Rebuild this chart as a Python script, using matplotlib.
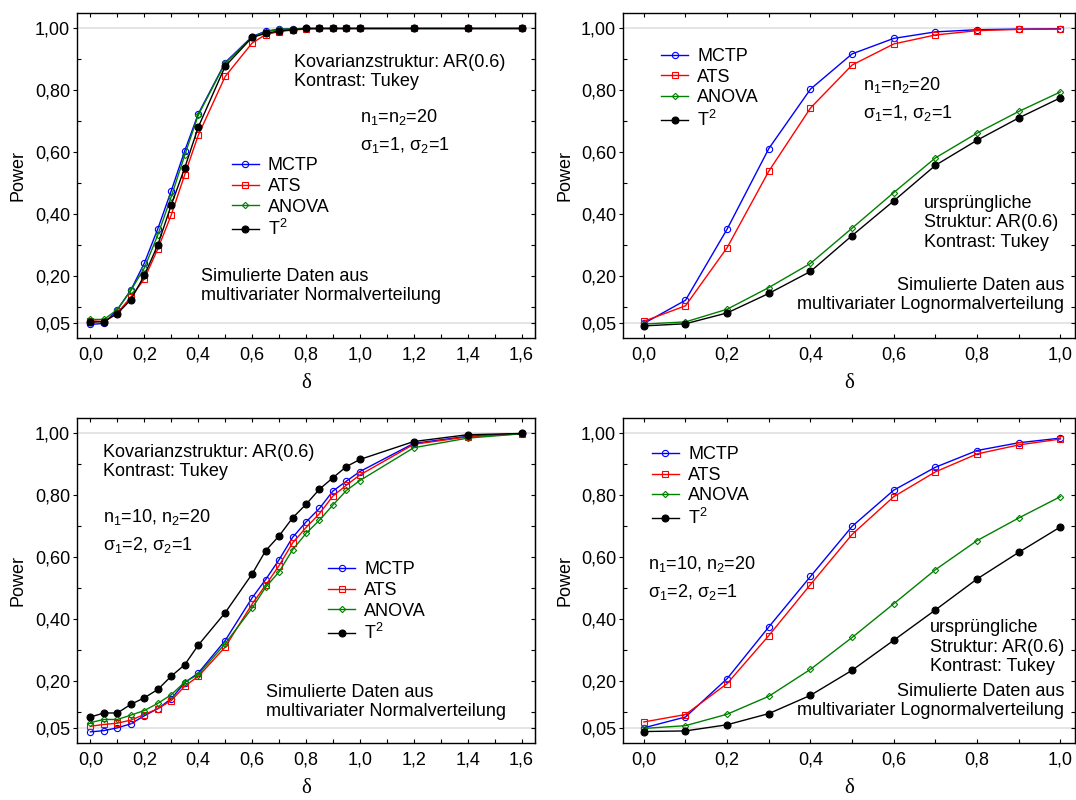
import matplotlib
matplotlib.use("Agg")
import matplotlib.pyplot as plt
from matplotlib.ticker import FixedLocator, FuncFormatter

plt.rcParams["font.family"] = ["Liberation Sans", "DejaVu Sans"]
plt.rcParams["font.size"] = 13

# delta grids
delta_fine = [0.0, 0.05, 0.1, 0.15, 0.2, 0.25, 0.3, 0.35, 0.4, 0.5, 0.6, 0.65,
              0.7, 0.75, 0.8, 0.85, 0.9, 0.95, 1.0, 1.2, 1.4, 1.6]
delta_coarse = [0.0, 0.1, 0.2, 0.3, 0.4, 0.5, 0.6, 0.7, 0.8, 0.9, 1.0]

# panel 1: normal, n1=n2=20, sigma 1/1
p1_mctp = [0.044, 0.047, 0.092, 0.155, 0.242, 0.353, 0.476, 0.605, 0.724, 0.890, 0.974, 0.991,
           0.998, 0.999, 1.0, 1.0, 1.0, 1.0, 1.0, 1.0, 1.0, 1.0]
p1_ats = [0.056, 0.053, 0.081, 0.132, 0.191, 0.288, 0.398, 0.528, 0.655, 0.845, 0.953, 0.980,
          0.990, 0.995, 0.998, 1.0, 1.0, 1.0, 1.0, 1.0, 1.0, 1.0]
p1_anova = [0.060, 0.060, 0.092, 0.154, 0.226, 0.333, 0.457, 0.591, 0.720, 0.888, 0.972, 0.989,
            0.997, 0.999, 1.0, 1.0, 1.0, 1.0, 1.0, 1.0, 1.0, 1.0]
p1_t2 = [0.051, 0.053, 0.079, 0.124, 0.202, 0.301, 0.430, 0.550, 0.681, 0.878, 0.971, 0.984,
         0.992, 0.996, 1.0, 1.0, 1.0, 1.0, 1.0, 1.0, 1.0, 1.0]

# panel 2: lognormal, n1=n2=20, sigma 1/1
p2_mctp = [0.047, 0.122, 0.352, 0.612, 0.804, 0.918, 0.968, 0.989, 0.996, 0.998, 0.999]
p2_ats = [0.054, 0.104, 0.292, 0.539, 0.743, 0.882, 0.950, 0.979, 0.993, 0.997, 0.998]
p2_anova = [0.045, 0.052, 0.093, 0.163, 0.241, 0.355, 0.470, 0.582, 0.662, 0.732, 0.795]
p2_t2 = [0.039, 0.046, 0.081, 0.144, 0.215, 0.331, 0.443, 0.558, 0.639, 0.711, 0.776]

# panel 3: normal, n1=10 n2=20, sigma 2/1
p3_mctp = [0.036, 0.040, 0.049, 0.062, 0.088, 0.111, 0.143, 0.195, 0.226, 0.331, 0.469, 0.528,
           0.592, 0.664, 0.714, 0.758, 0.814, 0.846, 0.877, 0.968, 0.991, 1.0]
p3_ats = [0.054, 0.060, 0.064, 0.074, 0.092, 0.111, 0.137, 0.184, 0.215, 0.310, 0.449, 0.510,
          0.573, 0.646, 0.696, 0.741, 0.798, 0.833, 0.866, 0.965, 0.989, 0.999]
p3_anova = [0.066, 0.076, 0.076, 0.090, 0.105, 0.128, 0.156, 0.197, 0.221, 0.321, 0.436, 0.503,
            0.553, 0.624, 0.677, 0.720, 0.769, 0.816, 0.848, 0.954, 0.985, 0.999]
p3_t2 = [0.084, 0.097, 0.097, 0.125, 0.146, 0.173, 0.216, 0.253, 0.316, 0.421, 0.546, 0.621,
         0.669, 0.727, 0.771, 0.820, 0.857, 0.893, 0.916, 0.974, 0.996, 1.0]

# panel 4: lognormal, n1=10 n2=20, sigma 2/1
p4_mctp = [0.049, 0.084, 0.208, 0.375, 0.538, 0.700, 0.817, 0.891, 0.945, 0.970, 0.985]
p4_ats = [0.068, 0.092, 0.192, 0.347, 0.512, 0.674, 0.796, 0.876, 0.934, 0.963, 0.982]
p4_anova = [0.047, 0.056, 0.093, 0.151, 0.238, 0.341, 0.450, 0.560, 0.654, 0.727, 0.796]
p4_t2 = [0.037, 0.039, 0.059, 0.095, 0.154, 0.235, 0.332, 0.430, 0.530, 0.616, 0.698]

y_major = [0.05, 0.2, 0.4, 0.6, 0.8, 1.0]
y_minor = [0.1, 0.3, 0.5, 0.7, 0.9]

txt_cov = "Kovarianzstruktur: AR(0.6)\nKontrast: Tukey"
txt_orig = "ursprüngliche\nStruktur: AR(0.6)\nKontrast: Tukey"
txt_norm = "Simulierte Daten aus\nmultivariater Normalverteilung"
txt_logn = "Simulierte Daten aus\nmultivariater Lognormalverteilung"
txt_n20 = "n$\\mathregular{_1}$=n$\\mathregular{_2}$=20\nσ$\\mathregular{_1}$=1, σ$\\mathregular{_2}$=1"
txt_n1020 = "n$\\mathregular{_1}$=10, n$\\mathregular{_2}$=20\nσ$\\mathregular{_1}$=2, σ$\\mathregular{_2}$=1"

series_style = [
    ("MCTP", dict(color="#0000ff", marker="o", mfc="none", ms=4.5, mew=0.8)),
    ("ATS", dict(color="#ff0000", marker="s", mfc="none", ms=4.5, mew=0.8)),
    ("ANOVA", dict(color="#008000", marker="D", mfc="none", ms=3.2, mew=0.8)),
    ("T$\\mathregular{^2}$", dict(color="black", marker="o", mfc="black", ms=5, mew=0.8)),
]


def setup_axis(ax, xmax, xmajor, xminor):
    ax.set_xlim(-0.05, xmax)
    ax.set_ylim(0.0, 1.05)
    ax.axhline(0.05, color="#e0e0e0", lw=1.2, zorder=0)
    ax.axhline(1.0, color="#e0e0e0", lw=1.2, zorder=0)
    ax.xaxis.set_major_locator(FixedLocator(xmajor))
    ax.xaxis.set_minor_locator(FixedLocator(xminor))
    ax.yaxis.set_major_locator(FixedLocator(y_major))
    ax.yaxis.set_minor_locator(FixedLocator(y_minor))
    ax.xaxis.set_major_formatter(FuncFormatter(lambda v, p: f"{v:.1f}".replace(".", ",")))
    ax.yaxis.set_major_formatter(FuncFormatter(lambda v, p: f"{v:.2f}".replace(".", ",")))
    ax.tick_params(axis="x", which="both", direction="in", top=True, length=3, width=0.8, pad=6)
    ax.tick_params(axis="y", which="major", direction="out", length=3, width=0.8, pad=2)
    ax.tick_params(axis="y", which="minor", direction="in", length=3, width=0.8)
    ax.tick_params(labelsize=13)
    right = ax.secondary_yaxis("right")
    right.yaxis.set_major_locator(FixedLocator(y_major))
    right.yaxis.set_minor_locator(FixedLocator(y_minor))
    right.tick_params(which="both", direction="in", length=3, width=0.8, labelright=False)
    for sp in ax.spines.values():
        sp.set_linewidth(1.0)
    ax.set_ylabel("Power", fontsize=13)
    ax.yaxis.set_label_coords(-0.11, 0.5)
    ax.set_xlabel("δ", fontsize=15, family=["Liberation Serif", "DejaVu Serif"])
    ax.xaxis.set_label_coords(0.5, -0.11)


def draw(ax, x, ys, legend_xy):
    for (label, st), y in zip(series_style, ys):
        ax.plot(x, y, lw=1.0, label=label, **st)
    ax.legend(loc="upper left", bbox_to_anchor=legend_xy, frameon=False, fontsize=13,
              borderpad=0, borderaxespad=0, handlelength=1.5, handletextpad=0.5,
              labelspacing=0.2)


fig = plt.figure(figsize=(10.76, 8.0), dpi=100)
ax1 = fig.add_axes([77 / 1076, 1 - 338 / 800, 458 / 1076, 325 / 800])
ax2 = fig.add_axes([623 / 1076, 1 - 338 / 800, 452 / 1076, 325 / 800])
ax3 = fig.add_axes([77 / 1076, 1 - 743 / 800, 458 / 1076, 325 / 800])
ax4 = fig.add_axes([623 / 1076, 1 - 743 / 800, 452 / 1076, 325 / 800])

fine_major = [0.0, 0.2, 0.4, 0.6, 0.8, 1.0, 1.2, 1.4, 1.6]
fine_minor = [0.1, 0.3, 0.5, 0.7, 0.9, 1.1, 1.3, 1.5]
coarse_major = [0.0, 0.2, 0.4, 0.6, 0.8, 1.0]
coarse_minor = [0.1, 0.3, 0.5, 0.7, 0.9]

setup_axis(ax1, 1.65, fine_major, fine_minor)
setup_axis(ax2, 1.035, coarse_major, coarse_minor)
setup_axis(ax3, 1.65, fine_major, fine_minor)
setup_axis(ax4, 1.035, coarse_major, coarse_minor)

draw(ax1, delta_fine, [p1_mctp, p1_ats, p1_anova, p1_t2], (0.338, 0.556))
draw(ax2, delta_coarse, [p2_mctp, p2_ats, p2_anova, p2_t2], (0.084, 0.892))
draw(ax3, delta_fine, [p3_mctp, p3_ats, p3_anova, p3_t2], (0.548, 0.559))
draw(ax4, delta_coarse, [p4_mctp, p4_ats, p4_anova, p4_t2], (0.064, 0.913))

kw = dict(fontsize=13, va="center", linespacing=1.17)
kw_n = dict(fontsize=13, va="center", linespacing=1.5)
ax1.text(0.474, 0.818, txt_cov, transform=ax1.transAxes, **kw)
ax1.text(0.618, 0.637, txt_n20, transform=ax1.transAxes, **kw_n)
ax1.text(0.271, 0.160, txt_norm, transform=ax1.transAxes, **kw)

ax2.text(0.531, 0.735, txt_n20, transform=ax2.transAxes, **kw_n)
ax2.text(0.666, 0.354, txt_orig, transform=ax2.transAxes, **kw)
ax2.text(0.976, 0.132, txt_logn, transform=ax2.transAxes, ha="right", multialignment="right", **kw)

ax3.text(0.057, 0.865, txt_cov, transform=ax3.transAxes, **kw)
ax3.text(0.057, 0.652, txt_n1020, transform=ax3.transAxes, **kw_n)
ax3.text(0.413, 0.126, txt_norm, transform=ax3.transAxes, **kw)

ax4.text(0.055, 0.508, txt_n1020, transform=ax4.transAxes, **kw_n)
ax4.text(0.679, 0.295, txt_orig, transform=ax4.transAxes, **kw)
ax4.text(0.976, 0.129, txt_logn, transform=ax4.transAxes, ha="right", multialignment="right", **kw)

fig.savefig("out.png", dpi=100)
